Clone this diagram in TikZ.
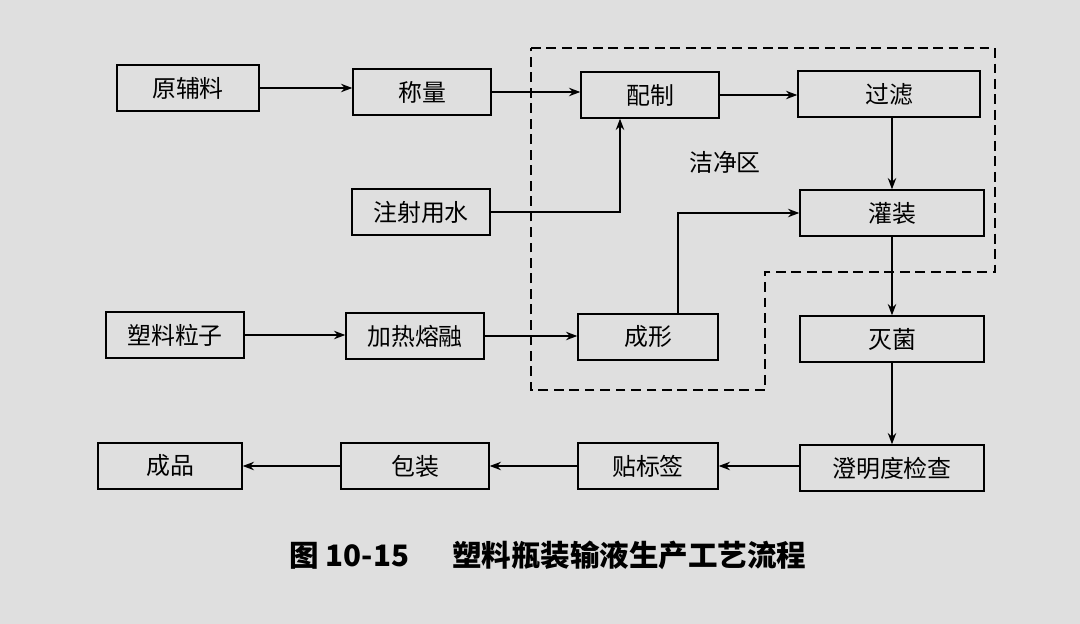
\documentclass[tikz,border=0pt]{standalone}
\usepackage{fontspec}
\setmainfont{Noto Sans CJK SC}
\usetikzlibrary{arrows.meta}
\begin{document}
\begin{tikzpicture}[x=0.025cm,y=-0.025cm,
  box/.style={draw,line width=1pt,minimum height=1.15cm,inner sep=0pt,font=\fontsize{17}{20}\selectfont},
  arr/.style={-{Stealth[length=8pt,width=6pt]},line width=0.9pt},
  zone/.style={dashed,line width=1.2pt,dash pattern=on 7pt off 4pt}]
\fill[gray!25] (0,0) rectangle (1080,624);
\useasboundingbox (0,0) rectangle (1080,624);
\node[box,minimum width=3.55cm] (a) at (188,88) {原辅料};
\node[box,minimum width=3.45cm] (b) at (422,92) {称量};
\node[box,minimum width=3.45cm] (c) at (650,95) {配制};
\node[box,minimum width=4.55cm] (d) at (889,94) {过滤};
\node[box,minimum width=3.45cm] (e) at (421,212) {注射用水};
\node[box,minimum width=4.6cm] (f) at (892,213) {灌装};
\node[box,minimum width=3.45cm] (g) at (175,335) {塑料粒子};
\node[box,minimum width=3.45cm] (h) at (415,336) {加热熔融};
\node[box,minimum width=3.5cm] (i) at (648,337) {成形};
\node[box,minimum width=4.6cm] (j) at (892,339) {灭菌};
\node[box,minimum width=3.6cm] (k) at (170,466) {成品};
\node[box,minimum width=3.7cm] (l) at (415,466) {包装};
\node[box,minimum width=3.5cm] (m) at (648,466) {贴标签};
\node[box,minimum width=4.6cm] (n) at (892,468) {澄明度检查};
\draw[zone] (531,48) -- (995,48) -- (995,272) -- (765,272) -- (765,390) -- (531,390) -- cycle;
\node[font=\fontsize{17}{20}\selectfont] (z) at (725,162) {洁净区};
\draw[arr] (a.east) -- (b.west |- a.east);
\draw[arr] (b.east) -- (c.west |- b.east);
\draw[arr] (c.east) -- (d.west |- c.east);
\draw[arr] (e.east) -| (c.south -| 620,0);
\draw[arr] (d.south -| f.north) -- (f.north);
\draw[arr] (f) -- (j);
\draw[arr] (j) -- (n);
\draw[arr] (g.east) -- (h.west |- g.east);
\draw[arr] (h.east) -- (i.west |- h.east);
\draw[arr] (i.north -| 678,0) |- (f.west);
\draw[arr] (n.west |- m.east) -- (m.east);
\draw[arr] (m) -- (l);
\draw[arr] (l) -- (k);
\node[font=\bfseries\fontsize{21}{24}\selectfont] (cap) at (548,555) {图 10-15\quad\ \ 塑料瓶装输液生产工艺流程};
\end{tikzpicture}
\end{document}
